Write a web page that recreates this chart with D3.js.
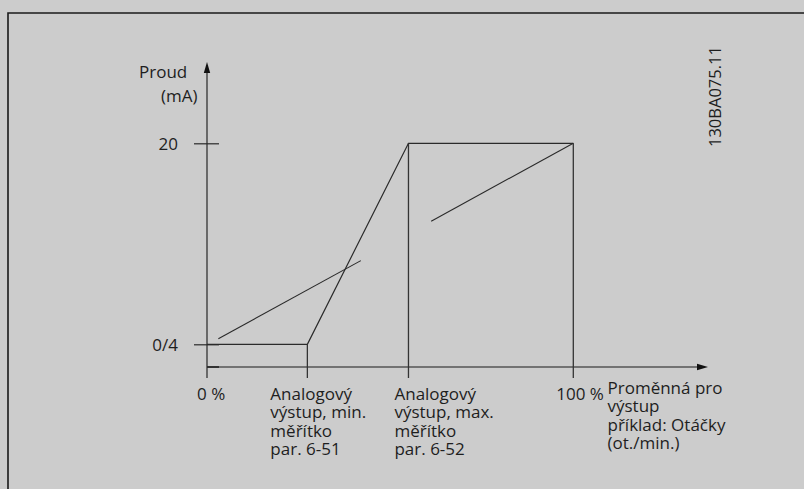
<!DOCTYPE html>
<html>
<head>
<meta charset="utf-8">
<script src="https://cdn.jsdelivr.net/npm/d3@7"></script>
<style>
  html, body { margin: 0; padding: 0; background: #cccccc; }
  svg { display: block; }
  text { font-family: "Open Sans", "Noto Sans", sans-serif; fill: #1e1e1e; }
</style>
</head>
<body>
<svg id="chart" width="804" height="489"></svg>
<script>
// ---- data ----
const yTickValues = [4, 20];
const yTickLabels = ["0/4", "20"];
const yTitle = ["Proud", "(mA)"];

const xMarks = [0, 27.4, 55, 100];            // % positions of the marked x points
const xMarkLabels = [
  ["0 %"],
  ["Analogový", "výstup, min.", "měřítko", "par. 6-51"],
  ["Analogový", "výstup, max.", "měřítko", "par. 6-52"],
  ["100 %"]
];
const xTitle = ["Proměnná pro", "výstup", "příklad: Otáčky", "(ot./min.)"];
const docId = "130BA075.11";

// output characteristic (x in %, y in mA)
const outputX = [0, 27.4, 55, 100];
const outputY = [4, 4, 20, 20];
// low-range slope segment
const lowSlopeX = [3.1, 42.0];
const lowSlopeY = [4.45, 10.66];
// high-range slope segment
const highSlopeX = [61.2, 100];
const highSlopeY = [13.8, 20];

// ---- drawing ----
const svg = d3.select("#chart");
const x = d3.scaleLinear().domain([0, 100]).range([207, 573.3]);
const y = d3.scaleLinear().domain([4, 20]).range([344.3, 143.3]);
const axisY = y(4) + 22.7;
const ink = "#2a2a2a";

// frame
svg.append("path").attr("d", "M8,489 V13 H804")
  .attr("fill", "none").attr("stroke", "#1a1a1a").attr("stroke-width", 1.6);

// y axis
svg.append("line").attr("x1", x(0)).attr("x2", x(0))
  .attr("y1", 70).attr("y2", axisY + 11)
  .attr("stroke", "#333").attr("stroke-width", 1.3);
svg.append("path").attr("d", `M${x(0)},62 L${x(0)-3.2},73 L${x(0)+3.2},73 Z`).attr("fill", "#111");

// x axis
svg.append("line").attr("x1", x(0)).attr("x2", 700)
  .attr("y1", axisY).attr("y2", axisY)
  .attr("stroke", "#555").attr("stroke-width", 1.4);
svg.append("line").attr("x1", x(0)).attr("x2", x(0) + 12)
  .attr("y1", axisY).attr("y2", axisY)
  .attr("stroke", "#222").attr("stroke-width", 1.6);
svg.append("path").attr("d", `M708,${axisY} L697,${axisY-3.3} L697,${axisY+3.3} Z`).attr("fill", "#111");

// y ticks
const yAxis = d3.axisLeft(y).tickValues(yTickValues).tickFormat((d, i) => yTickLabels[i])
  .tickSize(0).tickPadding(0);
const yg = svg.append("g").attr("transform", `translate(${x(0)},0)`).call(yAxis);
yg.select(".domain").remove();
yg.selectAll(".tick line").remove();
yg.selectAll(".tick").append("line")
  .attr("x1", -13).attr("x2", 12).attr("stroke", ink).attr("stroke-width", 1.2);
yg.selectAll(".tick text")
  .attr("x", -29).attr("dy", "0.36em")
  .attr("font-size", "17px").attr("font-family", "Open Sans").attr("fill", "#1e1e1e");

// y title
svg.append("text").attr("x", 139).attr("y", 78).attr("font-size", "17px").text(yTitle[0]);
svg.append("text").attr("x", 161).attr("y", 102).attr("font-size", "17px").text(yTitle[1]);

// output characteristic
const line = d3.line().x(d => x(d[0])).y(d => y(d[1]));
svg.append("path").datum(d3.zip(outputX, outputY)).attr("d", line)
  .attr("fill", "none").attr("stroke", ink).attr("stroke-width", 1.2);

// verticals at marked points
const vertTops = [null, 4, 20, 20];
xMarks.forEach((m, i) => {
  if (vertTops[i] === null) return;
  svg.append("line").attr("x1", x(m)).attr("x2", x(m))
    .attr("y1", y(vertTops[i])).attr("y2", axisY + 11)
    .attr("stroke", "#333").attr("stroke-width", 1.3);
});

// slope segments
svg.append("path").datum(d3.zip(lowSlopeX, lowSlopeY)).attr("d", line)
  .attr("fill", "none").attr("stroke", ink).attr("stroke-width", 1.1);
svg.append("path").datum(d3.zip(highSlopeX, highSlopeY)).attr("d", line)
  .attr("fill", "none").attr("stroke", ink).attr("stroke-width", 1.1);

// x labels
const labelStart = [-10, -37, -14, -17];
const lh = 18.4;
xMarks.forEach((m, i) => {
  const t = svg.append("text").attr("font-size", "17px")
    .attr("x", x(m) + labelStart[i]).attr("y", 399.5);
  xMarkLabels[i].forEach((s, j) => {
    t.append("tspan").attr("x", x(m) + labelStart[i]).attr("y", 400 + j * lh).text(s);
  });
});

// x title
const xt = svg.append("text").attr("font-size", "17px");
xTitle.forEach((s, j) => {
  xt.append("tspan").attr("x", 607.5).attr("y", 394 + j * lh).text(s);
});

// document id
svg.append("text").attr("font-size", "16.5px")
  .attr("transform", "translate(721,147) rotate(-90)").text(docId);
</script>
</body>
</html>
